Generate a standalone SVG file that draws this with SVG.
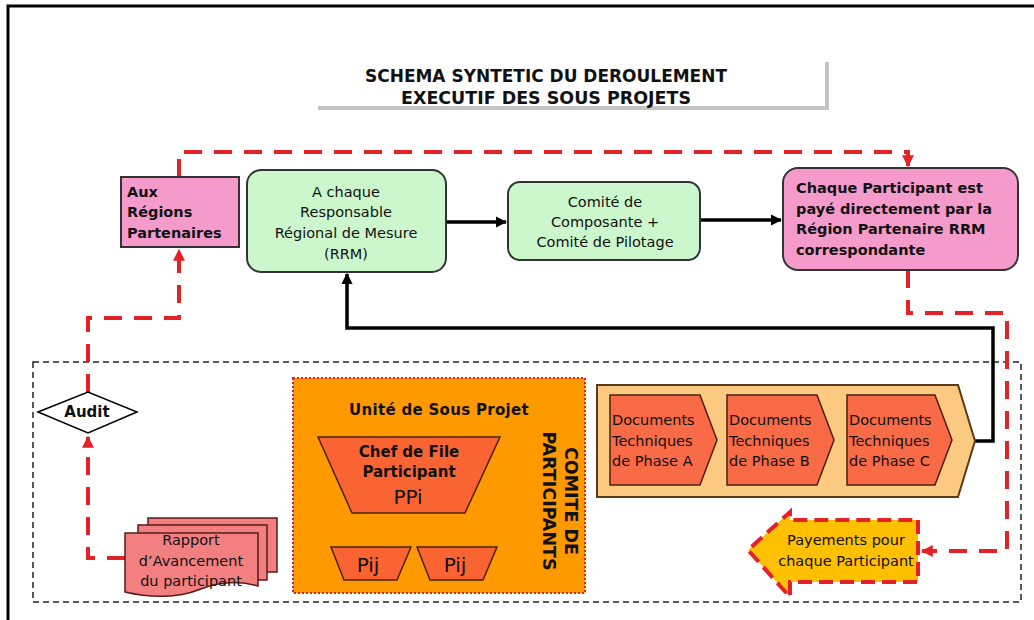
<svg xmlns="http://www.w3.org/2000/svg" width="1034" height="620" viewBox="0 0 1034 620">
<defs>
<style>
.frame{fill:none;stroke:#000;stroke-width:3}
.red{fill:none;stroke:#E32228;stroke-width:4;stroke-dasharray:18 12}
.blk{fill:none;stroke:#000;stroke-width:3.5}
.t{font-family:"DejaVu Sans","Liberation Sans",sans-serif;fill:#111}
.b{font-family:"DejaVu Sans","Liberation Sans",sans-serif;font-weight:bold;fill:#111}
.green{fill:#CCF7CC;stroke:#333;stroke-width:2}
.pink{fill:#F59BCB;stroke:#333;stroke-width:2}
.trap{fill:#FA6432;stroke:#4A2210;stroke-width:1.5}
.doc{fill:#F96A46;stroke:#4A2210;stroke-width:1.5}
.rep{fill:#F28080;stroke:#5A1A1A;stroke-width:1.5}
</style>
<marker id="ab" viewBox="0 0 10 10" refX="9" refY="5" markerWidth="3.2" markerHeight="3.2" orient="auto" markerUnits="strokeWidth"><path d="M0,0 L10,5 L0,10 Z" fill="#000"/></marker>
<marker id="ar" viewBox="0 0 10 10" refX="9" refY="5" markerWidth="3" markerHeight="3" orient="auto" markerUnits="strokeWidth"><path d="M0,0 L10,5 L0,10 Z" fill="#E32228"/></marker>
</defs>
<rect width="1034" height="620" fill="#fff"/>
<path class="frame" d="M8,620 V6 H1034"/>

<g id="title">
<path d="M318,108 H827 V62" fill="none" stroke="#C4C4C4" stroke-width="4"/>
<text class="b" x="546" y="82" font-size="17" text-anchor="middle" font-family="Liberation Sans" textLength="362" lengthAdjust="spacingAndGlyphs">SCHEMA SYNTETIC DU DEROULEMENT</text>
<text class="b" x="546" y="104" font-size="17" text-anchor="middle" textLength="290" lengthAdjust="spacingAndGlyphs">EXECUTIF DES SOUS PROJETS</text>
</g>

<g id="zone">
<rect x="33" y="362" width="988" height="240" fill="none" stroke="#222" stroke-width="1.5" stroke-dasharray="6 4"/>
</g>

<g id="connectors">
<path class="blk" d="M446,222 H506" marker-end="url(#ab)"/>
<path class="blk" d="M700,220 H781" marker-end="url(#ab)"/>
<path class="blk" d="M975,441 H993 V328 H347 V274" marker-end="url(#ab)"/>
<path class="blk" d="M408,530 V516" stroke-width="2" marker-end="url(#ab)"/>
<path d="M369,547 V530 H457 V547" fill="none" stroke="#222" stroke-width="2"/>
<path class="red" d="M125,558 H88 V437" marker-end="url(#ar)"/>
<path class="red" d="M88,392 V318 H179 V250" marker-end="url(#ar)"/>
<path class="red" d="M179,177 V152 H908 V166" marker-end="url(#ar)"/>
<path class="red" d="M908,270 V313 H1007 V551 H922" marker-end="url(#ar)"/>
</g>

<g id="aux">
<rect x="121" y="177" width="118" height="70" class="pink"/>
<text class="b" font-size="14.5"><tspan x="127" y="197">Aux</tspan><tspan x="127" y="217">Régions</tspan><tspan x="127" y="238">Partenaires</tspan></text>
</g>

<g id="rrm">
<rect x="247" y="170" width="199" height="102" rx="14" class="green"/>
<text class="t" font-size="14.5" text-anchor="middle"><tspan x="346" y="197">A chaque</tspan><tspan x="346" y="217">Responsable</tspan><tspan x="346" y="238">Régional de Mesure</tspan><tspan x="346" y="259">(RRM)</tspan></text>
</g>

<g id="comite">
<rect x="508" y="182" width="192" height="78" rx="12" class="green"/>
<text class="t" font-size="14.5" text-anchor="middle"><tspan x="605" y="207">Comité de</tspan><tspan x="605" y="227">Composante +</tspan><tspan x="605" y="247">Comité de Pilotage</tspan></text>
</g>

<g id="paye">
<rect x="783" y="168" width="235" height="102" rx="15" class="pink"/>
<text class="b" font-size="14.5"><tspan x="796" y="193">Chaque Participant est</tspan><tspan x="796" y="214">payé directement par la</tspan><tspan x="796" y="234">Région Partenaire RRM</tspan><tspan x="796" y="255">correspondante</tspan></text>
</g>

<g id="audit">
<path d="M38,412 L88,392 L137,412 L88,433 Z" fill="#fff" stroke="#000" stroke-width="1.5"/>
<text class="b" x="87" y="417" font-size="15" text-anchor="middle">Audit</text>
</g>

<g id="rapport">
<rect class="rep" x="148" y="518" width="129" height="54"/>
<rect class="rep" x="138" y="525" width="129" height="55"/>
<path class="rep" d="M125,533 H258 V586 C238,580 218,582 198,590 C178,598 150,598 125,592 Z"/>
<text class="t" font-size="14.5" text-anchor="middle"><tspan x="191" y="545">Rapport</tspan><tspan x="191" y="566">d’Avancement</tspan><tspan x="191" y="586">du participant</tspan></text>
</g>

<g id="unite">
<rect x="293" y="378" width="292" height="215" fill="#FF9900" stroke="#E32228" stroke-width="2" stroke-dasharray="2 2"/>
<text class="b" x="439" y="415" font-size="15" text-anchor="middle" letter-spacing="0.3">Unité de Sous Projet</text>
<text class="b" font-size="17.5" font-family="Liberation Sans" text-anchor="middle" transform="translate(565,501) rotate(90)">COMITE DE</text>
<text class="b" font-size="17.5" font-family="Liberation Sans" text-anchor="middle" transform="translate(543,501) rotate(90)">PARTICIPANTS</text>
</g>

<g id="ppi">
<path class="trap" d="M318,437 H500 L465,513 H352 Z"/>
<text class="b" font-size="15" text-anchor="middle"><tspan x="409" y="457">Chef de File</tspan><tspan x="409" y="477">Participant</tspan></text>
<text class="t" x="408" y="504" font-size="20" text-anchor="middle">PPi</text>
</g>

<g id="pij1">
<path class="trap" d="M331,547 H411 L397,580 H344 Z"/>
<text class="t" x="368" y="572" font-size="20" text-anchor="middle">Pij</text>
</g>

<g id="pij2">
<path class="trap" d="M417,547 H497 L483,580 H430 Z"/>
<text class="t" x="455" y="572" font-size="20" text-anchor="middle">Pij</text>
</g>

<g id="phases">
<path d="M597,385 H958 L975,441 L958,497 H597 Z" fill="#FBC97F" stroke="#5A3A1A" stroke-width="2"/>
</g>

<g id="phaseA">
<path class="doc" d="M610,395 H700 L717,440 L700,485 H610 Z"/>
<text class="t" font-size="14.5"><tspan x="612" y="425">Documents</tspan><tspan x="612" y="446">Techniques</tspan><tspan x="612" y="466">de Phase A</tspan></text>
</g>
<g id="phaseB">
<path class="doc" d="M727,395 H817 L834,440 L817,485 H727 Z"/>
<text class="t" font-size="14.5"><tspan x="729" y="425">Documents</tspan><tspan x="729" y="446">Techniques</tspan><tspan x="729" y="466">de Phase B</tspan></text>
</g>
<g id="phaseC">
<path class="doc" d="M847,395 H935 L952,440 L935,485 H847 Z"/>
<text class="t" font-size="14.5"><tspan x="849" y="425">Documents</tspan><tspan x="849" y="446">Techniques</tspan><tspan x="849" y="466">de Phase C</tspan></text>
</g>

<g id="payements">
<path d="M918,520 V582 H790 V597 L748,550 L790,512 V520 Z" fill="#FFC000" stroke="#E32228" stroke-width="4" stroke-dasharray="14 7"/>
<text class="t" font-size="14.5" text-anchor="middle"><tspan x="846" y="545">Payements pour</tspan><tspan x="846" y="566">chaque Participant</tspan></text>
</g>
</svg>
